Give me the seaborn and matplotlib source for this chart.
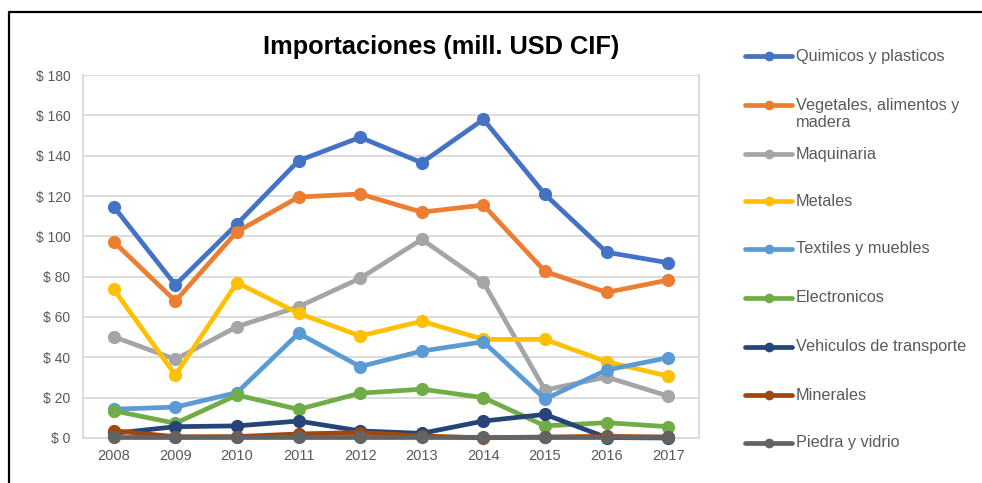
import matplotlib
matplotlib.use("Agg")
import matplotlib.pyplot as plt
from matplotlib.lines import Line2D
from matplotlib.ticker import FuncFormatter, FixedLocator
import pandas as pd
import seaborn as sns

years = [2008, 2009, 2010, 2011, 2012, 2013, 2014, 2015, 2016, 2017]

quimicos = [114.7, 75.9, 106.1, 137.5, 149.1, 136.5, 158.0, 120.8, 92.1, 86.9]
vegetales = [97.3, 67.9, 102.3, 119.5, 121.0, 112.0, 115.5, 82.6, 72.2, 78.3]
maquinaria = [50.2, 39.0, 55.2, 65.1, 79.2, 98.5, 77.2, 23.8, 30.2, 20.8]
metales = [73.7, 31.2, 77.0, 61.8, 50.6, 57.9, 48.9, 48.9, 37.8, 30.7]
textiles = [14.3, 15.3, 22.5, 51.9, 35.4, 43.1, 47.7, 19.3, 33.7, 39.8]
electronicos = [13.5, 7.3, 21.3, 14.2, 22.2, 24.2, 20.0, 6.0, 7.6, 5.6]
vehiculos = [2.3, 5.6, 6.0, 8.4, 3.5, 2.3, 8.4, 11.7, 0.2, 0.0]
minerales = [3.6, 0.6, 0.7, 2.0, 2.7, 1.0, 0.1, 0.5, 0.8, 0.5]
piedra = [0.3, 0.3, 0.3, 0.3, 0.3, 0.3, 0.3, 0.3, 0.3, 0.3]

series_names = [
    "Quimicos y plasticos",
    "Vegetales, alimentos y\nmadera",
    "Maquinaria",
    "Metales",
    "Textiles y muebles",
    "Electronicos",
    "Vehiculos de transporte",
    "Minerales",
    "Piedra y vidrio",
]
series_values = [quimicos, vegetales, maquinaria, metales, textiles,
                 electronicos, vehiculos, minerales, piedra]
colors = ["#4472C4", "#ED7D31", "#A5A5A5", "#FFC000", "#5B9BD5",
          "#70AD47", "#264478", "#9E480E", "#636363"]

y_ticks = [0, 20, 40, 60, 80, 100, 120, 140, 160, 180]

df = pd.DataFrame(
    [(name, yr, v) for name, vals in zip(series_names, series_values)
     for yr, v in zip(years, vals)],
    columns=["serie", "anio", "valor"],
)

sns.set_style("white")
plt.rcParams["font.family"] = ["Liberation Sans", "DejaVu Sans"]

fig = plt.figure(figsize=(9.82, 4.83), dpi=100)
ax = fig.add_axes([0.0845, 0.0932, 0.6273, 0.7515])

for name, col in zip(series_names, colors):
    sub = df[df["serie"] == name]
    sns.lineplot(data=sub, x="anio", y="valor", ax=ax, color=col,
                 linewidth=3.4, marker="o", markersize=9.5,
                 markeredgewidth=0, legend=False, clip_on=False)

ax.set_xlim(years[0] - 0.5, years[-1] + 0.5)
ax.set_ylim(y_ticks[0], y_ticks[-1])
ax.set_yticks(y_ticks)
ax.yaxis.set_major_formatter(FuncFormatter(lambda v, p: f"$ {v:.0f}"))
ax.set_xticks(years)
ax.set_xticklabels([str(y) for y in years])
ax.xaxis.set_minor_locator(FixedLocator([y - 0.5 for y in years] + [years[-1] + 0.5]))
ax.set_xlabel("")
ax.set_ylabel("")

ax.grid(axis="y", color="#D9D9D9", linewidth=1.3)
ax.set_axisbelow(True)
ax.spines["top"].set_visible(False)
for side in ["left", "right", "bottom"]:
    ax.spines[side].set_color("#D9D9D9")
    ax.spines[side].set_linewidth(1.3)
    ax.spines[side].set_zorder(0.5)

ax.tick_params(axis="y", which="both", length=0, labelsize=10,
               labelcolor="#595959", pad=9)
ax.tick_params(axis="x", which="major", length=0, labelsize=10.5,
               labelcolor="#595959", pad=8)
ax.tick_params(axis="x", which="minor", length=5, width=1.3,
               color="#D9D9D9", direction="out")

fig.text(0.449, 0.902, "Importaciones (mill. USD CIF)", ha="center",
         va="center", fontsize=18.3, fontweight="bold", color="black")

# Legend drawn beside the plot, one row per series
leg_y = [56, 105, 154, 201, 249, 298, 347, 395, 443]
H = 483.0
W = 982.0
for name, col, yy in zip(series_names, colors, leg_y):
    yf = 1 - yy / H
    fig.add_artist(Line2D([745 / W, 792 / W], [yf, yf], color=col,
                          linewidth=3.4, transform=fig.transFigure,
                          solid_capstyle="round"))
    fig.add_artist(Line2D([768.5 / W], [yf], color=col, marker="o",
                          markersize=7, markeredgewidth=0,
                          transform=fig.transFigure))
    if "\n" in name:
        fig.text(796 / W, 1 - (yy - 7) / H, name, ha="left", va="top",
                 fontsize=11.7, color="#595959", linespacing=1.15)
    else:
        fig.text(796 / W, yf, name, ha="left", va="center",
                 fontsize=11.7, color="#595959")

# Outer frame (top and left edges)
fig.add_artist(Line2D([9 / W, 9 / W, 1.0], [0.0, 1 - 12 / H, 1 - 12 / H],
                      color="black", linewidth=1.6, transform=fig.transFigure))

fig.savefig("out.png", dpi=100)
